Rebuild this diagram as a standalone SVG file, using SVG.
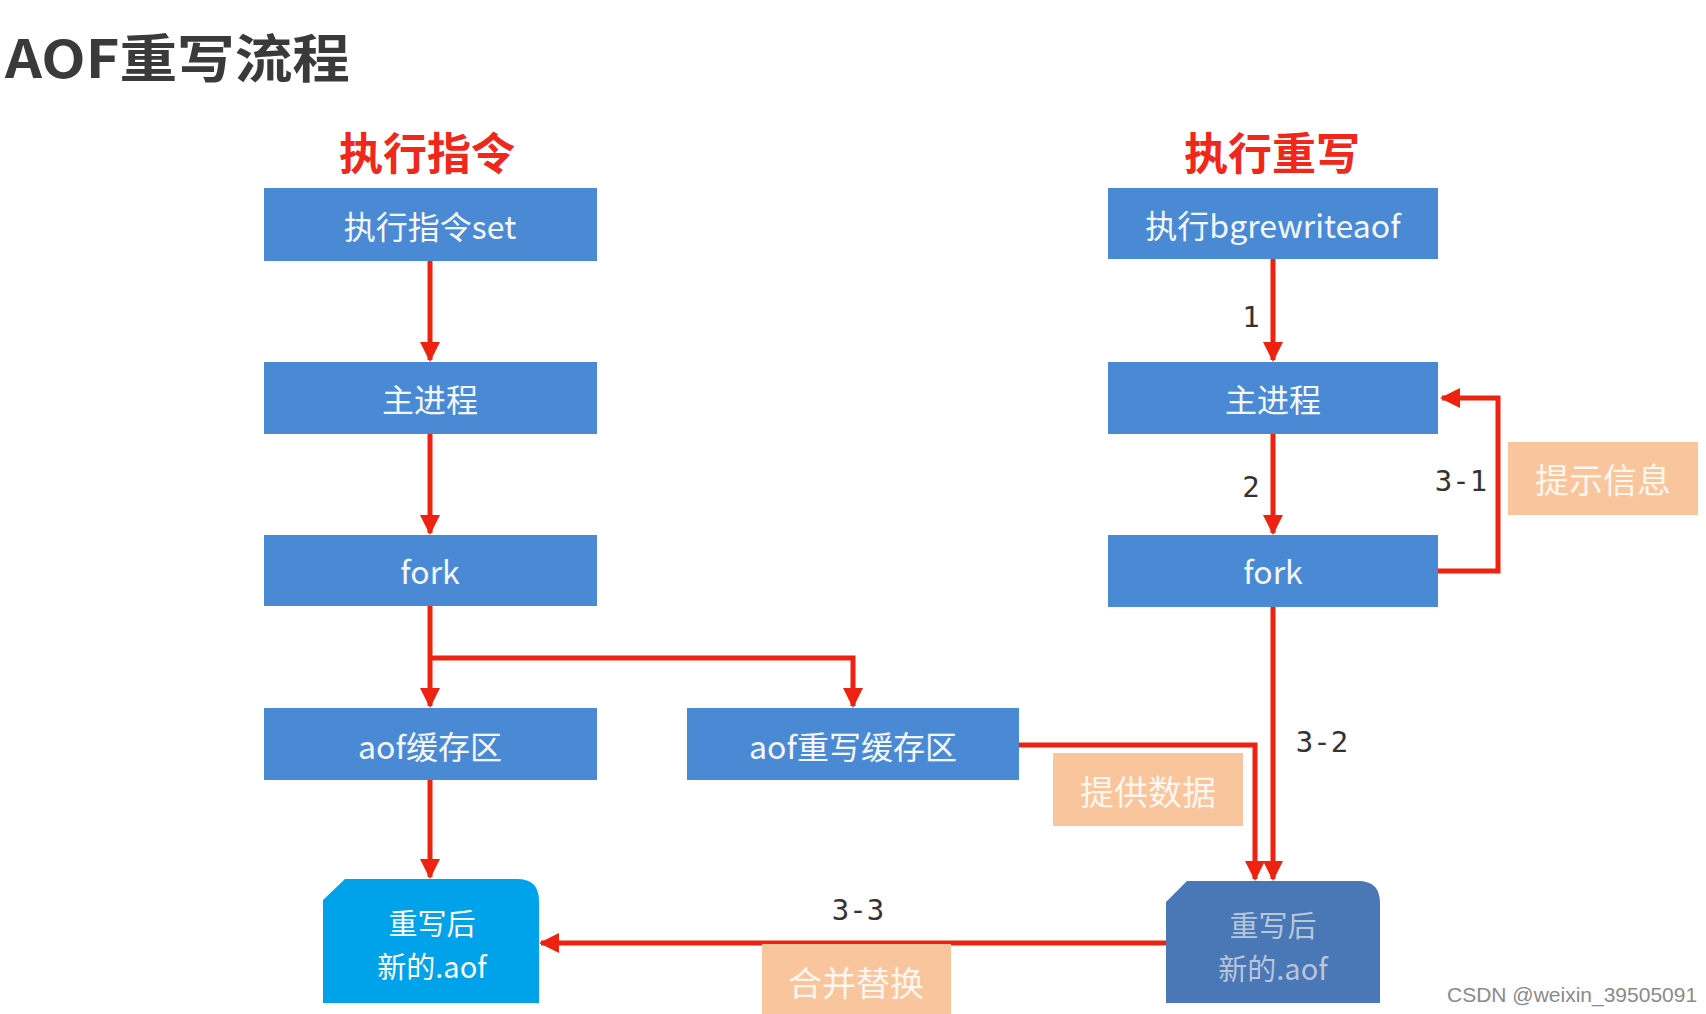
<svg xmlns="http://www.w3.org/2000/svg" width="1706" height="1014" viewBox="0 0 1706 1014">
<style>
.box{fill:#4A8AD5}
.bt{font-family:"Noto Sans CJK SC","Liberation Sans",sans-serif;font-size:32px;fill:#F4F7FC;text-anchor:middle;dominant-baseline:central}
.ft{font-family:"Noto Sans CJK SC","Liberation Sans",sans-serif;font-size:29px;text-anchor:middle;dominant-baseline:central}
.peach{fill:#F9C59C}
.pt{font-family:"Noto Sans CJK SC","Liberation Sans",sans-serif;font-size:34px;fill:#FFF6EE;text-anchor:middle;dominant-baseline:central}
.head{font-family:"Noto Sans CJK SC",sans-serif;font-size:44px;font-weight:bold;fill:#F0281C;text-anchor:middle;dominant-baseline:central}
.lbl{font-family:"DejaVu Sans Mono","Liberation Mono",monospace;font-size:29px;fill:#333;text-anchor:middle;dominant-baseline:central}
.ln{fill:none;stroke:#EE2211;stroke-width:5}
</style>
<defs>
<marker id="ah" viewBox="0 0 10 10" refX="9" refY="5" markerWidth="4" markerHeight="4" markerUnits="strokeWidth" orient="auto">
<path d="M0,0 L10,5 L0,10 Z" fill="#EE2211"/>
</marker>
</defs>
<rect width="1706" height="1014" fill="#FFFFFF"/>
<text x="5" y="55" font-family="Noto Sans CJK SC,Liberation Sans,sans-serif" font-size="52" font-weight="bold" fill="#3A3A3A" dominant-baseline="central" textLength="345" lengthAdjust="spacingAndGlyphs">AOF重写流程</text>
<text class="head" x="427" y="151">执行指令</text>
<text class="head" x="1272" y="151">执行重写</text>

<g id="connectors">
<path class="ln" marker-end="url(#ah)" d="M430,261 L430,360"/>
<path class="ln" marker-end="url(#ah)" d="M430,434 L430,533"/>
<path class="ln" marker-end="url(#ah)" d="M430,606 L430,706"/>
<path class="ln" marker-end="url(#ah)" d="M430,658 L853,658 L853,706"/>
<path class="ln" marker-end="url(#ah)" d="M430,780 L430,877"/>
<path class="ln" marker-end="url(#ah)" d="M1273,259 L1273,360"/>
<path class="ln" marker-end="url(#ah)" d="M1273,434 L1273,533"/>
<path class="ln" marker-end="url(#ah)" d="M1438,571 L1498,571 L1498,398 L1442,398"/>
<path class="ln" marker-end="url(#ah)" d="M1273,607 L1273,879"/>
<path class="ln" marker-end="url(#ah)" d="M1019,745 L1255,745 L1255,879"/>
<path class="ln" marker-end="url(#ah)" d="M1166,943 L541,943"/>
</g>

<g id="n_set"><rect class="box" x="264" y="188" width="333" height="73"/><text class="bt" x="430" y="225">执行指令set</text></g>
<g id="n_main_l"><rect class="box" x="264" y="362" width="333" height="72"/><text class="bt" x="430" y="398">主进程</text></g>
<g id="n_fork_l"><rect class="box" x="264" y="535" width="333" height="71"/><text class="bt" x="430" y="570">fork</text></g>
<g id="n_aofbuf"><rect class="box" x="264" y="708" width="333" height="72"/><text class="bt" x="430" y="745">aof缓存区</text></g>
<g id="n_rwbuf"><rect class="box" x="687" y="708" width="332" height="72"/><text class="bt" x="853" y="745">aof重写缓存区</text></g>
<g id="n_bgrw"><rect class="box" x="1108" y="188" width="330" height="71"/><text class="bt" x="1273" y="224">执行bgrewriteaof</text></g>
<g id="n_main_r"><rect class="box" x="1108" y="362" width="330" height="72"/><text class="bt" x="1273" y="398">主进程</text></g>
<g id="n_fork_r"><rect class="box" x="1108" y="535" width="330" height="72"/><text class="bt" x="1273" y="570">fork</text></g>

<g id="n_file_l"><path d="M323,900 L345,879 L517,879 Q539,879 539,901 L539,1003 L323,1003 Z" fill="#00A2EA"/><text class="ft" x="432" y="922" fill="#FFFFFF">重写后</text><text class="ft" x="432" y="965" fill="#FFFFFF">新的.aof</text></g>
<g id="n_file_r"><path d="M1166,902 L1187,881 L1358,881 Q1380,881 1380,903 L1380,1003 L1166,1003 Z" fill="#4A77B6"/><text class="ft" x="1273" y="924" fill="#B9C5D8">重写后</text><text class="ft" x="1273" y="967" fill="#B9C5D8">新的.aof</text></g>

<g id="n_tip"><rect class="peach" x="1508" y="442" width="190" height="73"/><text class="pt" x="1603" y="478">提示信息</text></g>
<g id="n_data"><rect class="peach" x="1053" y="753" width="190" height="73"/><text class="pt" x="1148" y="790">提供数据</text></g>
<g id="n_merge"><rect class="peach" x="762" y="944" width="189" height="70"/><text class="pt" x="856" y="981">合并替换</text></g>

<g id="labels">
<text class="lbl" x="1251" y="317">1</text>
<text class="lbl" x="1251" y="487">2</text>
<text class="lbl" x="1461" y="481">3-1</text>
<text class="lbl" x="1322" y="742">3-2</text>
<text class="lbl" x="858" y="910">3-3</text>
</g>
<text x="1447" y="994" font-family="Liberation Sans,sans-serif" font-size="21" fill="#8A8A8A" dominant-baseline="central">CSDN @weixin_39505091</text>
</svg>
